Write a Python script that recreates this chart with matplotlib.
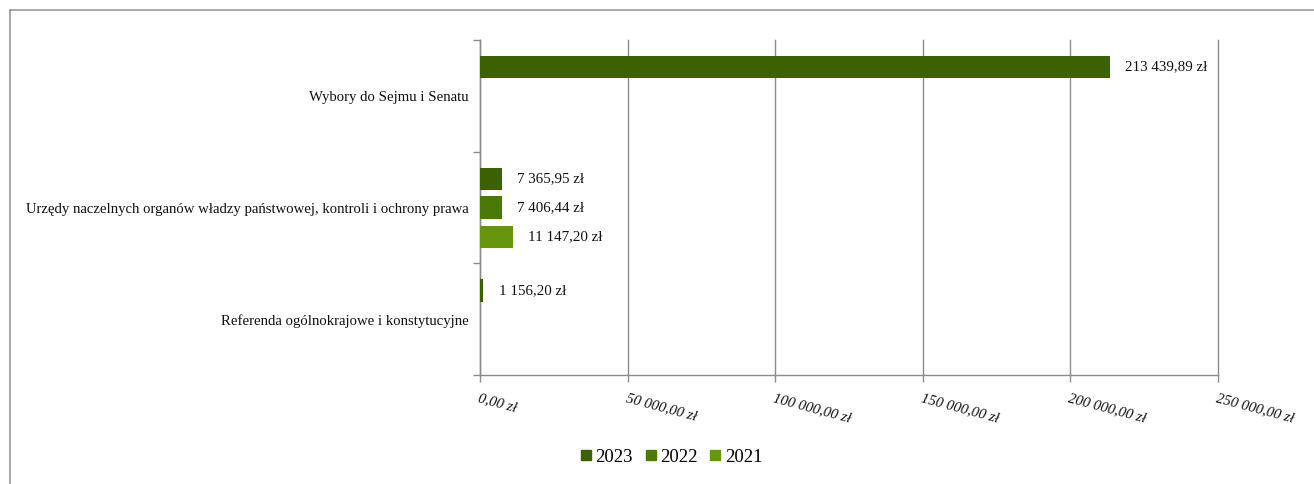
import matplotlib
matplotlib.use("Agg")
import matplotlib.pyplot as plt
from matplotlib.lines import Line2D
import numpy as np

plt.rcParams['font.family'] = ['Liberation Serif', 'DejaVu Serif']

categories = ["Wybory do Sejmu i Senatu",
              "Urzędy naczelnych organów władzy państwowej, kontroli i ochrony prawa",
              "Referenda ogólnokrajowe i konstytucyjne"]
series_names = ["2023", "2022", "2021"]
values_2023 = [213439.89, 7365.95, 1156.20]
values_2022 = [None, 7406.44, None]
values_2021 = [None, 11147.20, None]
colors = ["#3c6200", "#4a7a05", "#65960e"]
x_ticks = [0, 50000, 100000, 150000, 200000, 250000]

def fmt_pl(v):
    s = f"{v:,.2f}"
    intpart, dec = s.split(".")
    return intpart.replace(",", " ") + "," + dec + " zł"

W, H = 1314, 484
fig = plt.figure(figsize=(W / 100, H / 100), dpi=100)
ax = fig.add_axes([480 / W, 1 - 375 / H, (1218 - 480) / W, (375 - 40) / H])

ypos = np.arange(len(categories))
offsets = [-0.257, 0.0, 0.262]
bar_h = 0.2
all_series = [values_2023, values_2022, values_2021]
for s, (vals, off, col) in enumerate(zip(all_series, offsets, colors)):
    for i, v in enumerate(vals):
        if v is None:
            continue
        ax.barh(ypos[i] + off, v, height=bar_h, color=col, zorder=3)
        ax.text(v + 5200, ypos[i] + off, fmt_pl(v), va='center', ha='left',
                fontsize=10.8, color='#111111', zorder=4)

ax.set_ylim(2.5, -0.5)
ax.set_xlim(0, 250000)
ax.set_yticks(ypos)
ax.set_yticklabels(categories, fontsize=10.65, color='#111111')
ax.set_yticks(np.arange(-0.5, 3.0, 1.0), minor=True)
ax.tick_params(axis='y', which='major', length=0, pad=8)
ax.tick_params(axis='y', which='minor', length=5, color='#8c8c8c', width=1)

ax.set_xticks(x_ticks)
ax.set_xticklabels([fmt_pl(v) for v in x_ticks], fontsize=10.6, style='italic',
                   rotation=-15, ha='left', va='top', rotation_mode='anchor', color='#111111')
ax.tick_params(axis='x', length=5, color='#8c8c8c', width=1, pad=7)
ax.grid(axis='x', color='#8c8c8c', linewidth=1, zorder=0)
for gl in ax.get_xgridlines():
    gl.set_clip_on(False)

for sp in ['top', 'right']:
    ax.spines[sp].set_visible(False)
for sp in ['left', 'bottom']:
    ax.spines[sp].set_color('#8c8c8c')
    ax.spines[sp].set_linewidth(1)

handles = [Line2D([0], [0], marker='s', linestyle='none', markersize=7,
                  markerfacecolor=c, markeredgecolor=c) for c in colors]
fig.legend(handles, series_names, loc='center', bbox_to_anchor=(670 / W, 1 - 457 / H),
           ncol=3, frameon=False, fontsize=13.5, handletextpad=0.05, columnspacing=0.5,
           handlelength=0.9)

# outer frame (top and left visible)
fig.add_artist(Line2D([10 / W, 10 / W], [0, 1 - 10 / H], transform=fig.transFigure,
                      color='#999999', linewidth=1.2))
fig.add_artist(Line2D([10 / W, 1], [1 - 10 / H, 1 - 10 / H], transform=fig.transFigure,
                      color='#999999', linewidth=1.2))

fig.savefig("out.png", dpi=100)
